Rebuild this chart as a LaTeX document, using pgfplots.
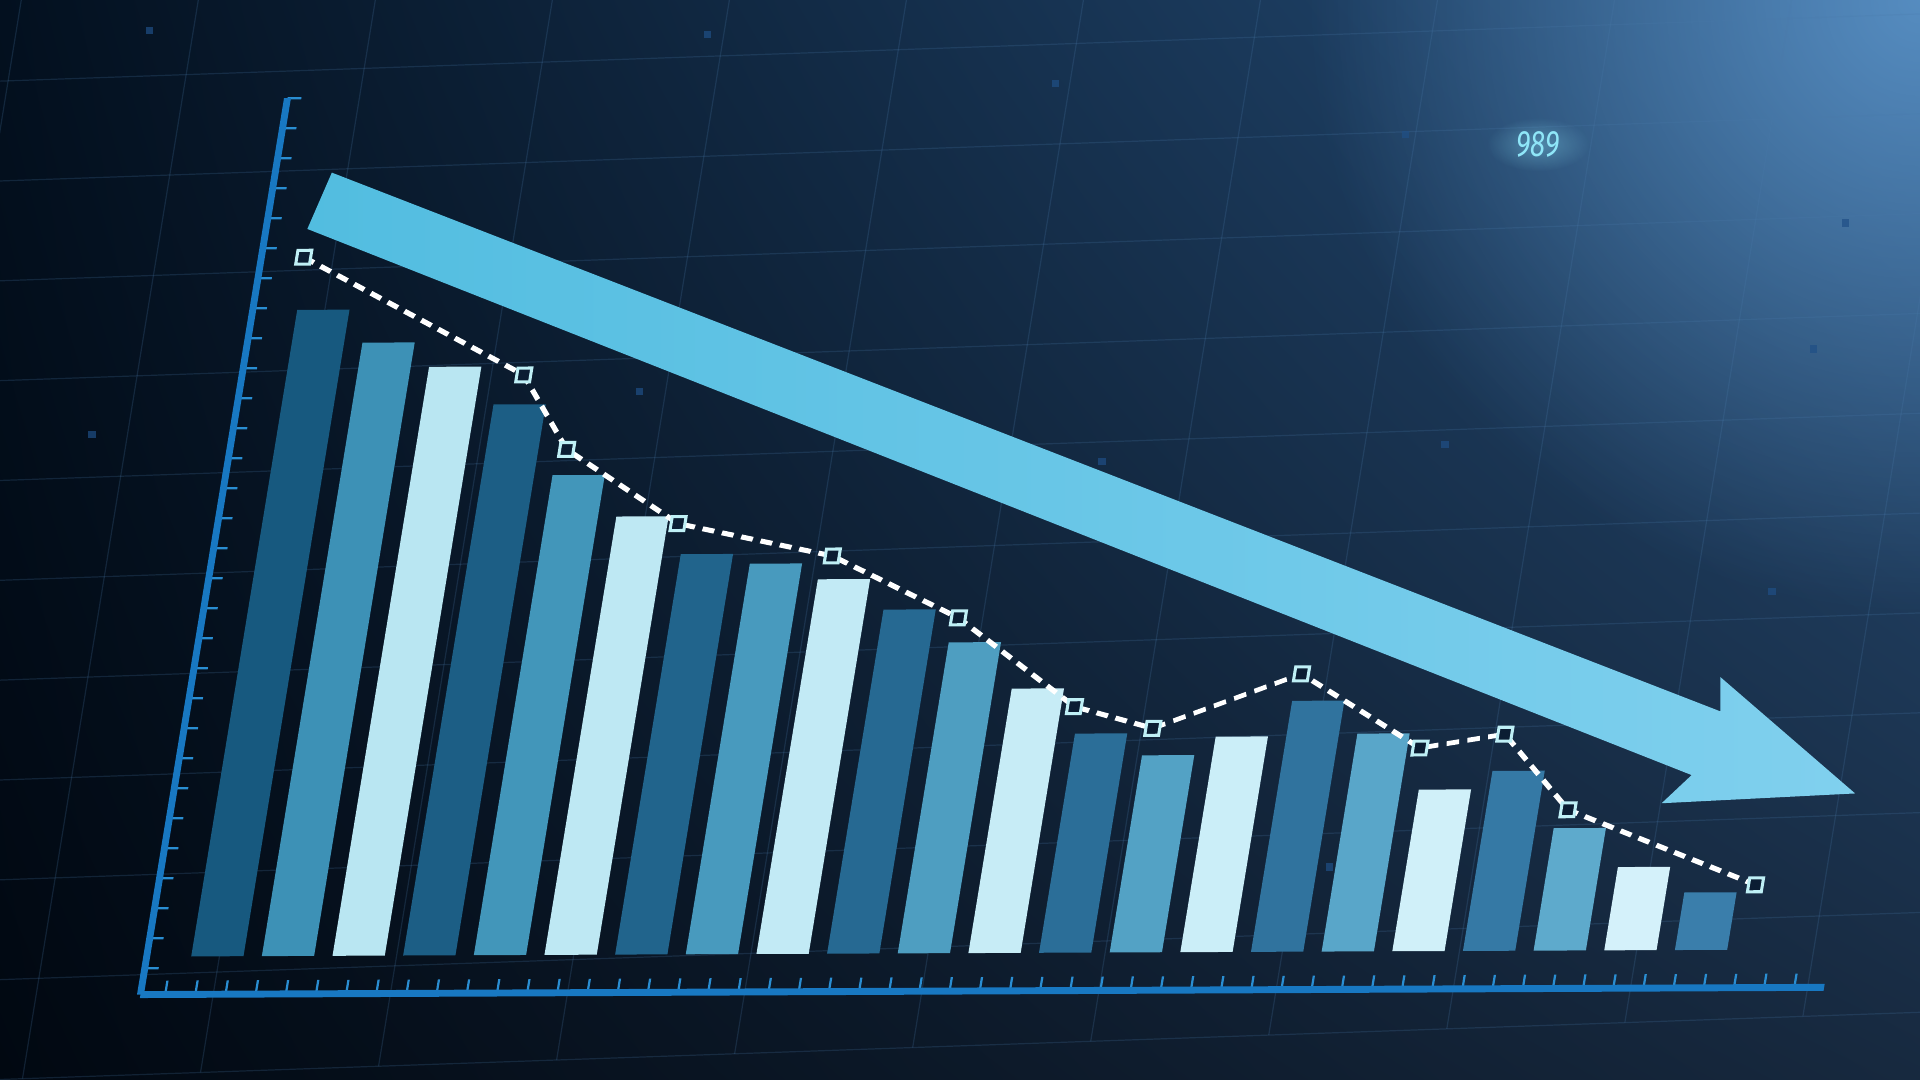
\documentclass[border=0pt]{standalone}
\usepackage{pgfplots}
\pgfplotsset{compat=1.18}
\usepackage{fontspec}
\setmainfont{Fira Sans}
\usetikzlibrary{fadings,shadings}
\tikzfading[name=fade out, inner color=transparent!0, outer color=transparent!100]

\definecolor{bgLL}{HTML}{010811}
\definecolor{bgUL}{HTML}{03101F}
\definecolor{bgLR}{HTML}{17293F}
\definecolor{bgUR}{HTML}{27507C}
\definecolor{glow}{HTML}{5E97CC}
\definecolor{gridc}{HTML}{4A7AAA}
\definecolor{axisblue}{HTML}{1878C2}
\definecolor{tickblue}{HTML}{2A8ED2}
% bar families, left end (L) and right end (R) of the chart
\definecolor{dL}{HTML}{17597F}
\definecolor{dR}{HTML}{3A7EAB}
\definecolor{mL}{HTML}{3B90B5}
\definecolor{mR}{HTML}{62ADCF}
\definecolor{lL}{HTML}{B6E5F1}
\definecolor{lR}{HTML}{D6F2FB}
\definecolor{markc}{HTML}{BFF0F6}
\definecolor{markfill}{HTML}{0B1D33}
\definecolor{arrowL}{HTML}{52BDE0}
\definecolor{arrowR}{HTML}{80D0EE}
\definecolor{numc}{HTML}{8FE6F8}
\definecolor{dotc}{HTML}{1F4F86}

% 1 unit of the sketch below = 0.3pt
\tikzset{px/.style={x=0.3pt,y=0.3pt}}

\begin{document}
\begin{tikzpicture}
\begin{scope}[px]
\useasboundingbox (0,0) rectangle (1568,882);
\shade[lower left=bgLL, upper left=bgUL, lower right=bgLR, upper right=bgUR]
  (0,0) rectangle (1568,882);
\fill[glow, path fading=fade out, opacity=0.85] (1568,882) circle (500);
\end{scope}

% faint perspective grid (slanted by the canvas transform)
\begin{scope}[transform canvas={cm={1,0.035,0.163,1,(0,0)}}]
\begin{axis}[
  at={(5.49pt,246.12pt)}, anchor=origin,
  x=43.62pt, y=24.6pt,
  xmin=-2, xmax=11, ymin=-10, ymax=1.5,
  xtick={-2,...,11}, ytick={-10,...,1},
  xticklabels={}, yticklabels={},
  major tick length=0pt,
  axis line style={draw=none},
  grid=major,
  grid style={line width=0.3pt, color=gridc, opacity=0.22},
]
\addplot[draw=none] coordinates {(0,0)};
\end{axis}
\end{scope}

% scattered small squares
\begin{scope}[px]
\foreach \p in {(122,857),(578,854),(862,814),(1148,772),(1180,519),(900,505),
  (522,562),(75,527),(1507,700),(1481,597),(1447,399),(275,365),(1086,174)}
  \fill[dotc, opacity=0.7] \p ++(-3,-3) rectangle ++(6,6);
\end{scope}

% chart, slanted like the reference's tilted view
\begin{scope}[transform canvas={cm={1,0.0043,0.164,1,(0,0)}}]
\begin{axis}[
  at={(31.005pt,30.093pt)}, anchor=origin,
  x=17.31pt, y=0.3pt,
  xmin=0, xmax=23.83, ymin=-31, ymax=701,
  axis lines=left,
  axis line style={-, line width=1.7pt, color=axisblue},
  xtick={0.35,0.777,...,23.9},
  ytick={-9.5,15,...,702},
  xticklabels={}, yticklabels={},
  tick align=inside,
  major tick length=3.4pt,
  tick style={line width=0.55pt, color=tickblue},
  clip=false,
]
\pgfplotsset{every axis plot/.append style={ybar, bar width=0.74, bar shift=0pt, draw=none}}
\addplot[fill=dL]          coordinates {(1,528)};
\addplot[fill=mR!5!mL]     coordinates {(2,501)};
\addplot[fill=lR!10!lL]    coordinates {(3,481)};
\addplot[fill=dR!14!dL]    coordinates {(4,450)};
\addplot[fill=mR!19!mL]    coordinates {(5,392)};
\addplot[fill=lR!24!lL]    coordinates {(6,358)};
\addplot[fill=dR!29!dL]    coordinates {(7,327)};
\addplot[fill=mR!33!mL]    coordinates {(8,319)};
\addplot[fill=lR!38!lL]    coordinates {(9,306)};
\addplot[fill=dR!43!dL]    coordinates {(10,281)};
\addplot[fill=mR!48!mL]    coordinates {(11,254)};
\addplot[fill=lR!52!lL]    coordinates {(12,216)};
\addplot[fill=dR!57!dL]    coordinates {(13,179)};
\addplot[fill=mR!62!mL]    coordinates {(14,161)};
\addplot[fill=lR!67!lL]    coordinates {(15,176)};
\addplot[fill=dR!71!dL]    coordinates {(16,205)};
\addplot[fill=mR!76!mL]    coordinates {(17,178)};
\addplot[fill=lR!81!lL]    coordinates {(18,132)};
\addplot[fill=dR!86!dL]    coordinates {(19,147)};
\addplot[fill=mR!90!mL]    coordinates {(20,100)};
\addplot[fill=lR!95!lL]    coordinates {(21,68)};
\addplot[fill=dR]          coordinates {(22,47)};

\addplot[sharp plot, draw=white, line width=1.2pt, dash pattern=on 3pt off 2pt,
  mark=square*, mark size=1.7pt,
  mark options={solid, draw=markc, fill=markfill, line width=0.75pt}]
  coordinates {
  (0.60,571) (3.99,474) (4.77,413) (6.52,352) (8.78,325) (10.71,274)
  (12.56,201) (13.72,183) (15.70,227) (17.55,166) (18.72,177) (19.79,115)
  (22.62,53)
  };
\end{axis}
\end{scope}

\begin{scope}[px]
% trend arrow
\shade[left color=arrowL, right color=arrowR]
  (271,741) -- (1405,301) -- (1405,329) -- (1515,234) -- (1357,226)
  -- (1381.5,249) -- (251,695) -- cycle;
% glowing number
\fill[numc, path fading=fade out, opacity=0.35] (1256,764) ellipse (42 and 22);
\node[text=numc, font=\fontsize{9}{10}\selectfont\itshape, xscale=0.75]
  at (1256,764) {989};
\end{scope}
\end{tikzpicture}
\end{document}
